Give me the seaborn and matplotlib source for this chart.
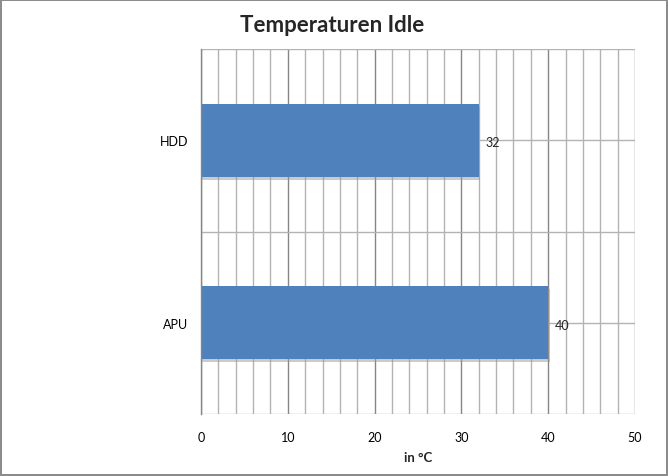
import matplotlib
matplotlib.use("Agg")
import matplotlib.pyplot as plt
import matplotlib.patheffects as pe
import seaborn as sns
import pandas as pd
import numpy as np

categories = ["HDD", "APU"]
values = [32, 40]
title = "Temperaturen Idle"
xlabel = "in °C"

sns.set_theme(style="white")
plt.rcParams['font.family'] = ['Lato', 'DejaVu Sans']

df = pd.DataFrame({"cat": categories, "val": values})

fig = plt.figure(figsize=(6.68, 4.77), dpi=100)
fig.patch.set_edgecolor("#8c8c8c")
fig.patch.set_linewidth(1.5)
ax = fig.add_axes([201/668, 62/477, 434/668, 365/477])

sns.barplot(data=df, x="val", y="cat", orient="h", color="#4F81BD",
            saturation=1, width=0.4, linewidth=0, edgecolor="none", ax=ax, zorder=3)
for p in ax.patches:
    p.set_path_effects([pe.SimplePatchShadow(offset=(1, -2), shadow_rgbFace="#999999", alpha=0.5), pe.Normal()])

ax.set_xlim(0, 50)
ax.set_ylim(1.5, -0.5)
ax.set_xticks(np.arange(0, 51, 10))
ax.set_yticks([0, 1])
ax.set_yticklabels(categories)
ax.grid(False)
for x in np.arange(0, 51, 2):
    ax.axvline(x, color="#868686" if x % 10 == 0 else "#b3b3b3", lw=1, zorder=1)
for y in [-0.5, 0, 0.5, 1, 1.5]:
    ax.axhline(y, color="#b3b3b3", lw=1, zorder=1)

for s in ["top", "right", "bottom"]:
    ax.spines[s].set_visible(False)
ax.spines["left"].set_color("#868686")
ax.spines["left"].set_linewidth(1)
ax.spines["left"].set_zorder(4)

ax.tick_params(axis="both", which="both", length=0, labelsize=9, colors="black")
ax.tick_params(axis="y", pad=9)
ax.tick_params(axis="x", pad=12)

for i, v in enumerate(values):
    ax.text(v + 0.8, i + 0.01, str(v), va="center", ha="left", fontsize=9, zorder=5)

ax.set_xlabel(xlabel, fontsize=9.5, fontweight="bold", labelpad=6)
ax.set_ylabel("")
fig.text(332/668, 1 - 26/477, title, ha="center", va="center", fontsize=16, fontweight="bold")

fig.savefig("out.png", dpi=100, edgecolor=fig.get_edgecolor())
